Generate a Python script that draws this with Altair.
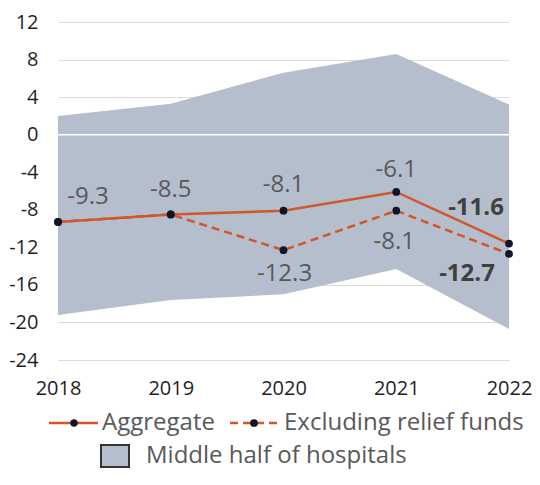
import altair as alt
import pandas as pd

years = [2018, 2019, 2020, 2021, 2022]
aggregate = [-9.3, -8.5, -8.1, -6.1, -11.6]
excluding = [-9.3, -8.5, -12.3, -8.1, -12.7]
band_upper = [2.0, 3.3, 6.6, 8.6, 3.2]
band_lower = [-19.2, -17.6, -17.0, -14.3, -20.7]
y_ticks = [-24, -20, -16, -12, -8, -4, 0, 4, 8, 12]
series_names = ["Aggregate", "Excluding relief funds"]
band_name = "Middle half of hospitals"

ORANGE = "#D2562C"
BAND = "#B5BECC"
DOT = "#0E1628"
GRID = "#DADADA"
LABEL = "#595959"
BOLD = "#404040"
FONT = "Open Sans"
W, H = 451, 338

band_df = pd.DataFrame({"year": years, "upper": band_upper, "lower": band_lower})
lines_df = pd.DataFrame({
    "year": years * 2,
    "value": aggregate + excluding,
    "series": [series_names[0]] * 5 + [series_names[1]] * 5,
})

x_axis = alt.Axis(values=years, format="d", title=None, grid=False, domain=False,
                  ticks=False, labelPadding=18, labelFontSize=20, labelColor="#1F1F1F",
                  labelFont=FONT, labelFlush=False, labelOverlap=False)
y_axis = alt.Axis(values=y_ticks, title=None, grid=True, gridColor=GRID, gridWidth=1,
                  domain=False, ticks=False, labelPadding=20, labelFontSize=20,
                  labelColor="#1F1F1F", labelFont=FONT, labelExpr="datum.value")
x_scale = alt.Scale(domain=[2018, 2022], nice=False, zero=False)
y_scale = alt.Scale(domain=[-24, 12], nice=False, zero=False)


def X():
    return alt.X("year:Q", scale=x_scale, axis=x_axis)


def Y(field):
    return alt.Y(f"{field}:Q", scale=y_scale, axis=y_axis)


band = alt.Chart(band_df).mark_area(color=BAND, opacity=1).encode(
    x=X(), y=Y("upper"), y2="lower:Q")

zero_rule = alt.Chart(pd.DataFrame({"value": [0]})).mark_rule(
    color="white", strokeWidth=1.5).encode(y=Y("value"))

excl_line = alt.Chart(lines_df).transform_filter(
    alt.datum.series == series_names[1]).mark_line(
    color=ORANGE, strokeWidth=2.5, strokeDash=[8, 5]).encode(x=X(), y=Y("value"))

agg_line = alt.Chart(lines_df).transform_filter(
    alt.datum.series == series_names[0]).mark_line(
    color=ORANGE, strokeWidth=2.5).encode(x=X(), y=Y("value"))

points = alt.Chart(lines_df).mark_point(
    filled=True, size=60, color=DOT, opacity=1).encode(x=X(), y=Y("value"))


def label(series, year, dx, dy, bold=False):
    return alt.Chart(lines_df).transform_filter(
        (alt.datum.series == series) & (alt.datum.year == year)
    ).mark_text(
        dx=dx, dy=dy, font=FONT, fontSize=24, baseline="middle",
        fontWeight="bold" if bold else "normal",
        color=BOLD if bold else LABEL,
    ).encode(x=X(), y=Y("value"), text=alt.Text("value:N"))


labels = [
    label(series_names[0], 2018, 30, -25),
    label(series_names[0], 2019, 0, -24),
    label(series_names[0], 2020, 0, -26),
    label(series_names[0], 2021, 0, -22),
    label(series_names[0], 2022, -33, -36, True),
    label(series_names[1], 2020, 1, 24),
    label(series_names[1], 2021, -2, 31),
    label(series_names[1], 2022, -42, 20, True),
]

# legend (custom, placed below the plot)
one = pd.DataFrame({"k": [0]})
LY1, LY2 = H + 63, H + 96
LEG_FS = 24
leg = [
    alt.Chart(one).mark_rule(color=ORANGE, strokeWidth=2.5).encode(
        x=alt.value(-9), x2=alt.value(40), y=alt.value(LY1)),
    alt.Chart(one).mark_point(filled=True, size=55, color=DOT, opacity=1).encode(
        x=alt.value(16), y=alt.value(LY1)),
    alt.Chart(pd.DataFrame({"t": [series_names[0]]})).mark_text(
        align="left", baseline="middle", font=FONT, fontSize=LEG_FS, color=LABEL).encode(
        x=alt.value(44), y=alt.value(LY1), text="t:N"),
    alt.Chart(one).mark_rule(color=ORANGE, strokeWidth=2.5, strokeDash=[8, 5]).encode(
        x=alt.value(172), x2=alt.value(222), y=alt.value(LY1)),
    alt.Chart(one).mark_point(filled=True, size=60, color=DOT, opacity=1).encode(
        x=alt.value(196), y=alt.value(LY1)),
    alt.Chart(pd.DataFrame({"t": [series_names[1]]})).mark_text(
        align="left", baseline="middle", font=FONT, fontSize=LEG_FS, color=LABEL).encode(
        x=alt.value(226), y=alt.value(LY1), text="t:N"),
    alt.Chart(one).mark_rect(fill=BAND, stroke="#333333", strokeWidth=2).encode(
        x=alt.value(43), x2=alt.value(71), y=alt.value(LY2 - 11), y2=alt.value(LY2 + 11)),
    alt.Chart(pd.DataFrame({"t": [band_name]})).mark_text(
        align="left", baseline="middle", font=FONT, fontSize=LEG_FS, color=LABEL).encode(
        x=alt.value(88), y=alt.value(LY2), text="t:N"),
]

chart = alt.layer(band, zero_rule, excl_line, agg_line, points, *labels, *leg).properties(
    width=W, height=H, background="white",
    padding={"left": 0, "top": 4, "right": 0, "bottom": 3}
).configure_view(stroke=None)

chart.save("out.html", embed_options={"renderer": "svg", "actions": False})
